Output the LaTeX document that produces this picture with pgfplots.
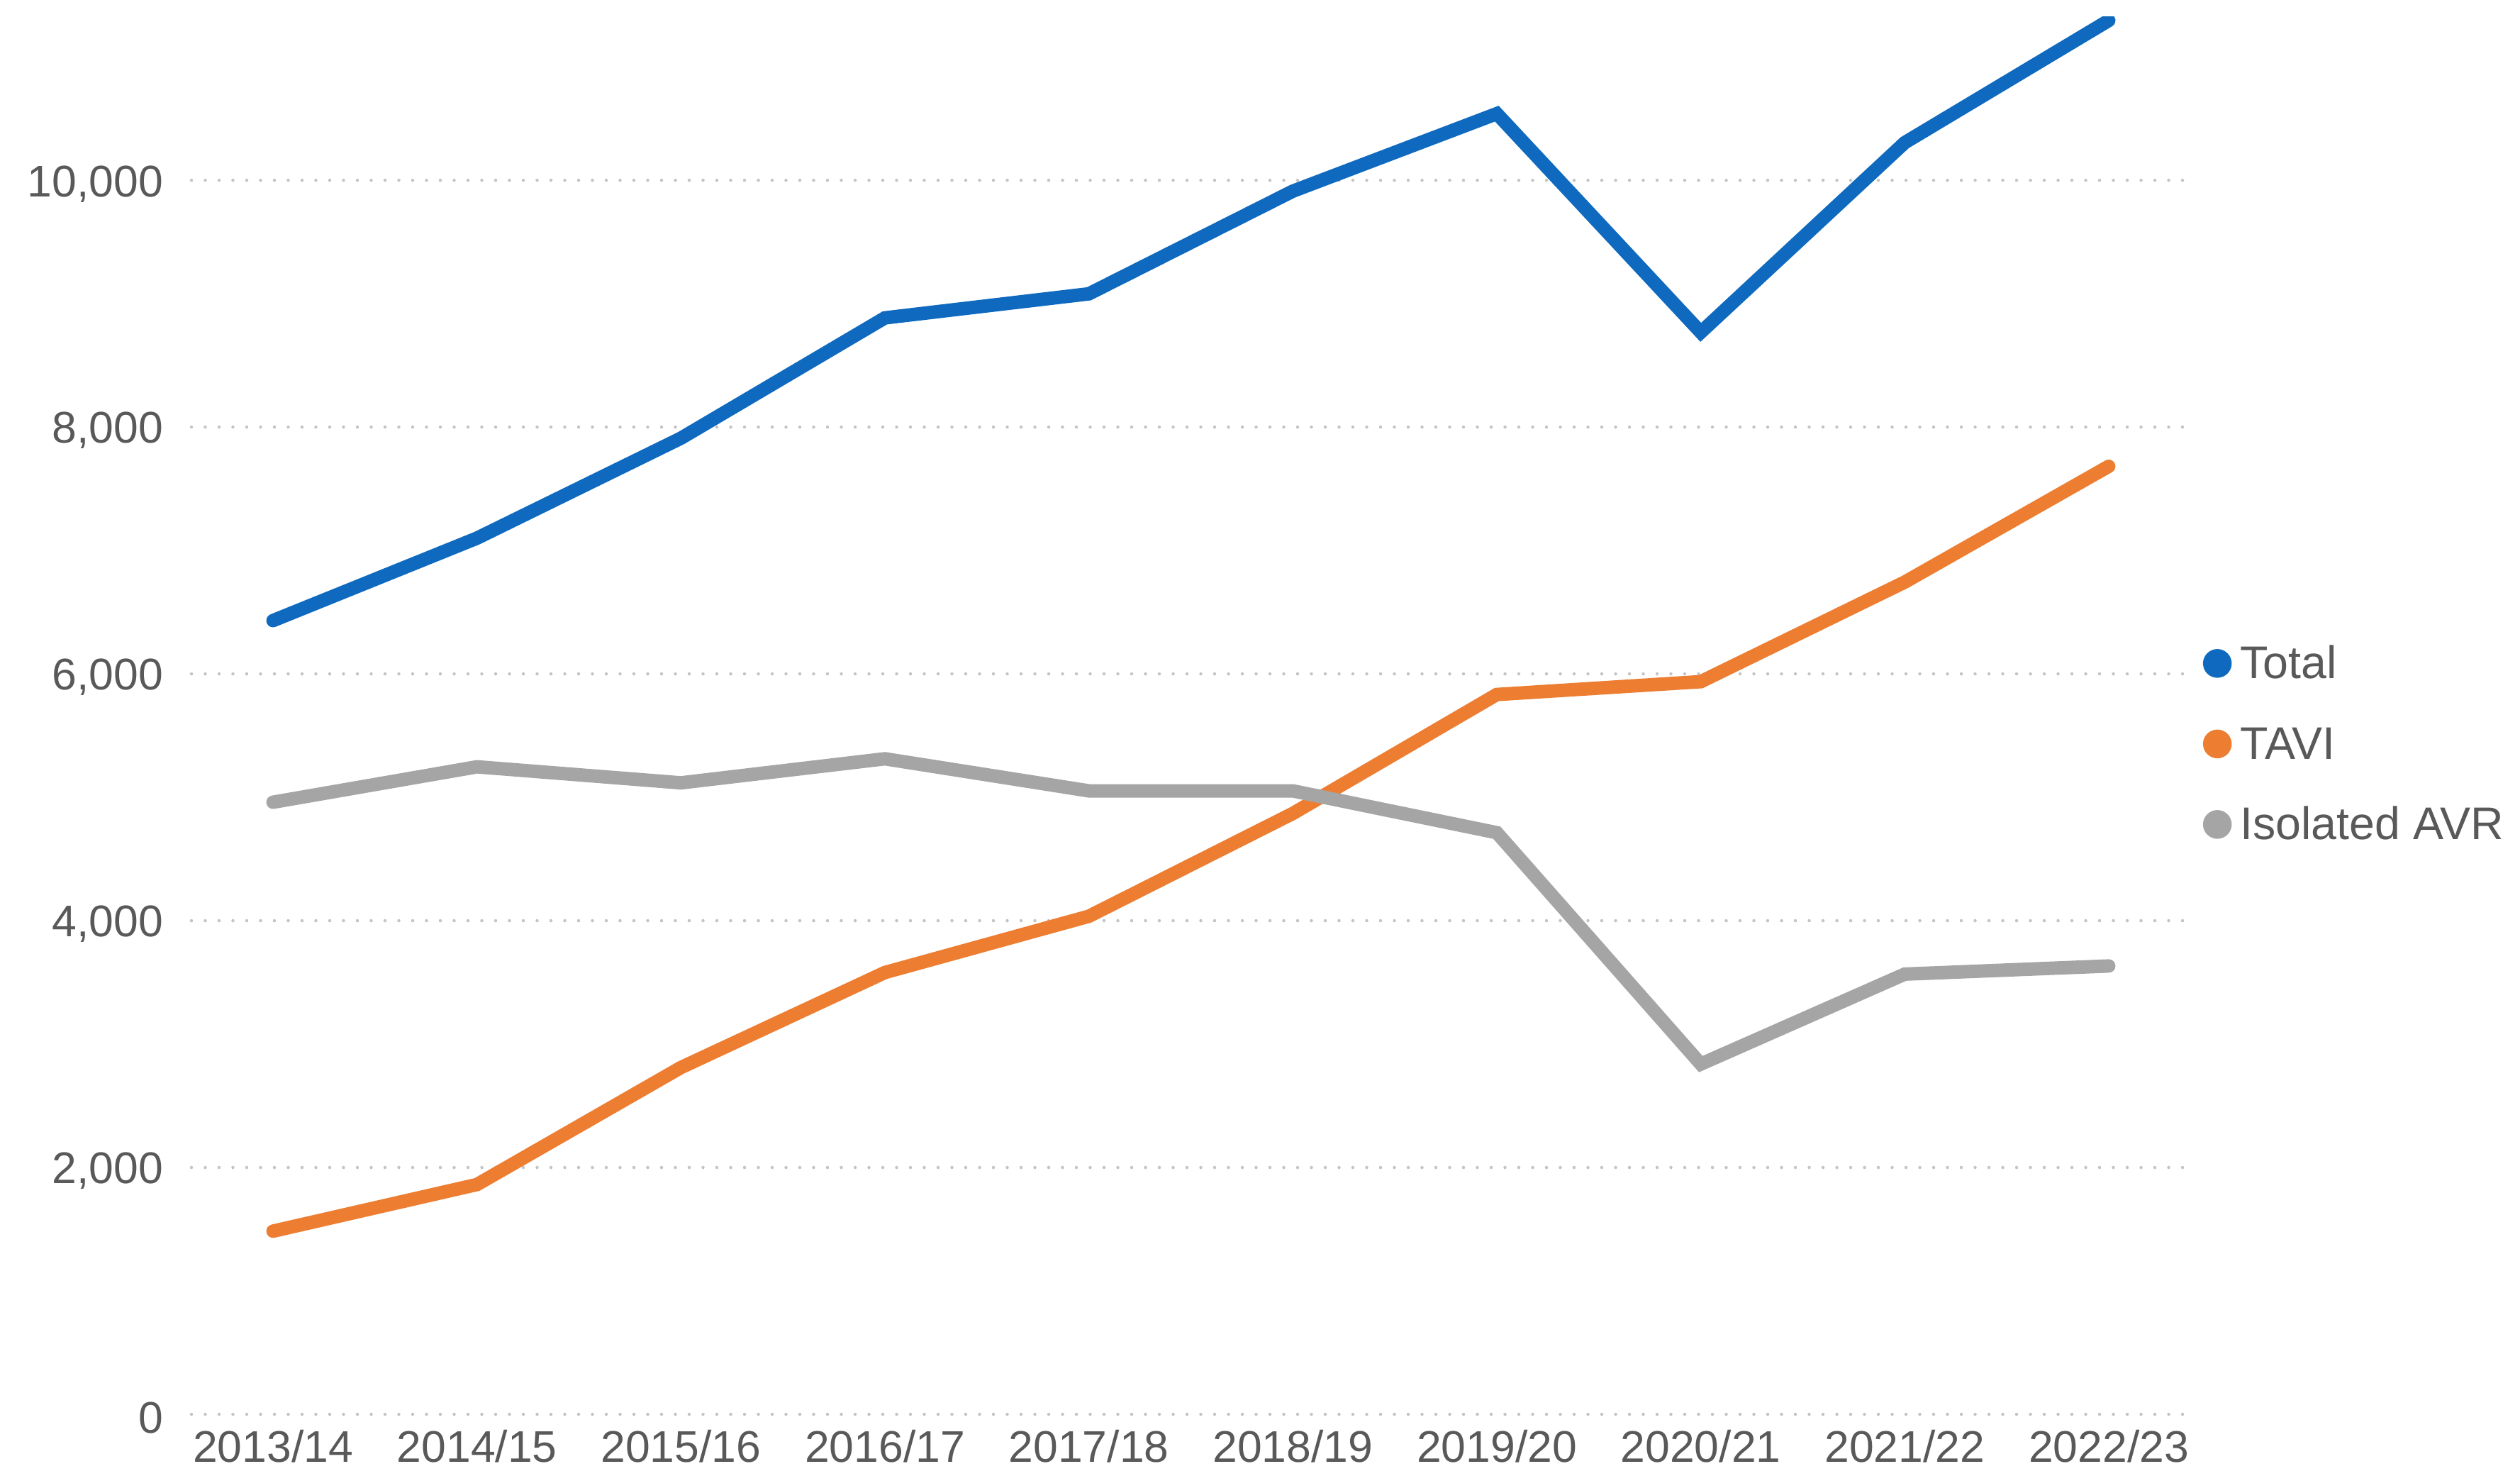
\documentclass[border=0pt]{standalone}
\usepackage{pgfplots}
\pgfplotsset{compat=1.18}
\usepackage{fontspec}
\setmainfont{Liberation Sans}
\definecolor{cTotal}{HTML}{0F6ABF}
\definecolor{cTavi}{HTML}{ED7D31}
\definecolor{cAvr}{HTML}{A5A5A5}
\definecolor{txt}{HTML}{595959}
\definecolor{gridc}{HTML}{C4C4C4}
\begin{document}
\begin{tikzpicture}
\begin{axis}[
  scale only axis,
  width=563.8pt, height=394.06pt,
  xmin=-0.4, xmax=9.4, ymin=0, ymax=11325,
  axis line style={draw=none},
  major tick length=0pt,
  xtick={0,...,9},
  xticklabels={2013/14,2014/15,2015/16,2016/17,2017/18,2018/19,2019/20,2020/21,2021/22,2022/23},
  ytick={0,2000,4000,6000,8000,10000},
  scaled y ticks=false,
  ymajorgrids,
  grid style={gridc, line width=0.9pt, line cap=round, dash pattern=on 0pt off 3.9pt},
  /pgf/number format/assume math mode=true,
  /pgf/number format/1000 sep={,},
  tick label style={font=\fontsize{12.5}{15}\selectfont, text=txt},
  xticklabel style={yshift=-1pt},
  yticklabel style={xshift=-4.5pt, yshift=-1pt},
  legend cell align=left,
  legend style={at={(1.006,0.477)}, anchor=west, draw=none, fill=none,
    font=\fontsize{12.9}{15.5}\selectfont, text=txt, inner sep=0pt,
    nodes={inner sep=0pt, text height=9.5pt, text depth=3pt},
    row sep=10.2pt, column sep=2.4pt},
  legend image code/.code={\fill[#1, draw=none] (4.05pt,0.2ex) circle (4.05pt);},
  clip=true,
]
\addplot[cTotal, line width=3.8pt, line cap=round] coordinates {
 (0,6432) (1,7100) (2,7910) (3,8885) (4,9080) (5,9912) (6,10540) (7,8768) (8,10305) (9,11295)};
\addlegendentry{Total}
\addplot[cTavi, line width=3.8pt, line cap=round] coordinates {
 (0,1484) (1,1862) (2,2810) (3,3580) (4,4036) (5,4869) (6,5833) (7,5937) (8,6744) (9,7682)};
\addlegendentry{TAVI}
\addplot[cAvr, line width=3.8pt, line cap=round] coordinates {
 (0,4960) (1,5247) (2,5117) (3,5312) (4,5052) (5,5052) (6,4713) (7,2838) (8,3567) (9,3633)};
\addlegendentry{Isolated AVR}
\end{axis}
\pgfresetboundingbox
\path (current axis.south west) ++(-54pt,-17.4pt) coordinate (bl);
\path (current axis.north east) ++(93pt,4.74pt) coordinate (tr);
\path[use as bounding box] (bl) rectangle (tr);
\end{tikzpicture}
\end{document}
